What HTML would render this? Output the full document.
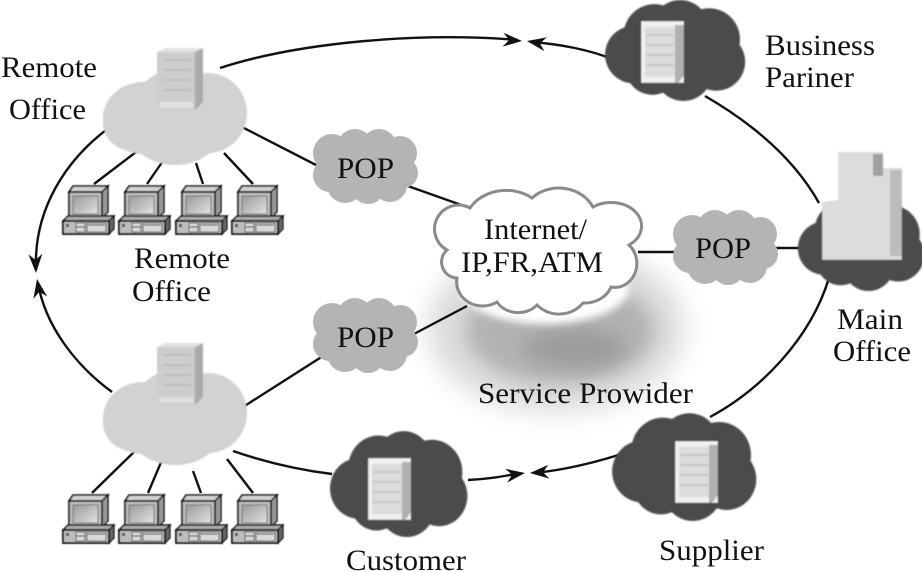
<!DOCTYPE html>
<html><head><meta charset="utf-8"><style>
html,body{margin:0;padding:0;background:#fff;width:922px;height:572px;overflow:hidden}
svg{display:block}
text{font-family:"Liberation Serif",serif;font-size:30px;fill:#111}
.l{fill:none;stroke:#111;stroke-width:2.4}
</style></head><body>
<svg width="922" height="572" viewBox="0 0 922 572" xmlns="http://www.w3.org/2000/svg">
<defs>
<filter id="b1" x="-30%" y="-30%" width="160%" height="160%"><feGaussianBlur stdDeviation="13"/></filter>
<filter id="b2" x="-30%" y="-30%" width="160%" height="160%"><feGaussianBlur stdDeviation="9"/></filter>
<filter id="b3" x="-30%" y="-30%" width="160%" height="160%"><feGaussianBlur stdDeviation="4"/></filter>
<filter id="s" x="-5%" y="-5%" width="110%" height="110%"><feGaussianBlur stdDeviation="0.9"/></filter>
<filter id="t" x="-5%" y="-5%" width="110%" height="110%"><feGaussianBlur stdDeviation="0.4"/></filter>
<linearGradient id="scr" x1="0" y1="0" x2="1" y2="1"><stop offset="0" stop-color="#999"/><stop offset="1" stop-color="#e2e2e2"/></linearGradient>
<symbol id="pc" width="54" height="54" viewBox="0 0 54 54" overflow="visible">
<g filter="url(#t)">
<path d="M6 8 L10 2 L45 2 L39 8 Z" fill="#d0d0d0" stroke="#111" stroke-width="1.6"/>
<path d="M39 8 L45 2 L45 28 L39 34 Z" fill="#999" stroke="#111" stroke-width="1.4"/>
<rect x="6" y="8" width="33" height="26" fill="#bcbcbc" stroke="#111" stroke-width="1.6"/>
<rect x="10" y="12" width="25" height="18" fill="url(#scr)" stroke="#777"/>
<path d="M0 37 L5 32 L51 32 L46 37 Z" fill="#aaa" stroke="#111" stroke-width="1.4"/>
<path d="M46 37 L51 32 L51 45 L46 50 Z" fill="#666" stroke="#111" stroke-width="1.2"/>
<rect x="0" y="37" width="46" height="13" fill="#bdbdbd" stroke="#111" stroke-width="1.8"/>
<rect x="13" y="39" width="9" height="9" fill="#d8d8d8" stroke="#444" stroke-width=".8"/>
<rect x="24" y="39" width="19" height="9" fill="#d8d8d8" stroke="#444" stroke-width=".8"/>
<path d="M13 43 H22 M25 41 H42" stroke="#222" stroke-width="1"/>
<rect x="3" y="40" width="3" height="3" fill="#555"/>
</g>
</symbol>
<symbol id="srvl" width="50" height="64" viewBox="0 0 50 64" overflow="visible">
<g filter="url(#s)">
<rect x="2" y="4" width="38" height="58" fill="#cdcdcd"/>
<path d="M40 4 L48 0 V54 L40 62 Z" fill="#aaa"/>
<path d="M2 4 L10 0 H48 L40 4 Z" fill="#e2e2e2"/>
<path d="M8 12 H36 M8 22 H36 M8 32 H36 M8 42 H36" stroke="#bdbdbd" stroke-width="2"/>
<rect x="4" y="54" width="34" height="6" fill="#e0e0e0"/>
</g>
</symbol>
<symbol id="srvd" width="46" height="64" viewBox="0 0 46 64" overflow="visible">
<g filter="url(#s)">
<rect x="0" y="0" width="43" height="62" fill="#f0f0f0"/>
<rect x="4" y="6" width="30" height="50" fill="#dcdcdc"/>
<path d="M34 4 H43 V54 L37 62 H34Z" fill="#b0b0b0"/>
<path d="M5 14 H33 M5 24 H33 M5 34 H33 M5 44 H33" stroke="#c6c6c6" stroke-width="2"/>
</g>
</symbol>
<g id="cloudL">
<ellipse cx="40" cy="50" rx="40" ry="36"/><ellipse cx="72" cy="38" rx="40" ry="36"/><ellipse cx="105" cy="45" rx="39" ry="40"/><ellipse cx="72" cy="62" rx="46" ry="35"/><ellipse cx="30" cy="55" rx="30" ry="28"/>
</g>
<g id="cloudD">
<circle cx="30" cy="55" r="28"/><circle cx="50" cy="36" r="30"/><circle cx="75" cy="30" r="28"/><circle cx="103" cy="40" r="30"/><circle cx="110" cy="62" r="28"/><circle cx="78" cy="72" r="28"/><circle cx="48" cy="68" r="26"/>
</g>
<g id="pop">
<circle cx="-33" cy="-14" r="19"/><circle cx="-10" cy="-20" r="18"/><circle cx="14" cy="-20" r="18"/><circle cx="35" cy="-14" r="17"/><circle cx="-35" cy="8" r="17"/><circle cx="38" cy="6" r="15"/><circle cx="-20" cy="18" r="18"/><circle cx="3" cy="20" r="17"/><circle cx="25" cy="18" r="17"/><rect x="-36" y="-20" width="72" height="38"/>
</g>
<path id="ar" d="M0 0 L-19 -7 L-13 0 L-19 7 Z" fill="#111"/>
</defs>
<rect width="922" height="572" fill="#fff"/>

<!-- service provider shading -->
<ellipse cx="556" cy="328" rx="128" ry="84" fill="#dadada" filter="url(#b1)"/>
<ellipse cx="560" cy="330" rx="94" ry="54" fill="#b2b2b2" filter="url(#b2)"/>
<ellipse cx="575" cy="348" rx="52" ry="20" fill="#9c9c9c" filter="url(#b2)"/>
<ellipse cx="545" cy="288" rx="84" ry="36" fill="#fff" filter="url(#b3)"/>

<!-- ring connectors -->
<path class="l" d="M220 68 C300 42 420 32 518 40"/>
<path class="l" d="M531 42 C560 44 590 50 612 59"/>
<path class="l" d="M705 96 C755 125 795 160 819 203"/>
<path class="l" d="M829 278 C810 340 760 390 710 417"/>
<path class="l" d="M631 451 C595 463 565 470 534 473"/>
<path class="l" d="M468 480 C490 479 505 476 521 473"/>
<path class="l" d="M233 451 C265 462 300 470 332 474"/>
<path class="l" d="M110 127 C65 160 34 210 36 268"/>
<path class="l" d="M112 392 C75 365 45 325 38 283"/>
<use href="#ar" transform="translate(522,41) rotate(4)"/>
<use href="#ar" transform="translate(527,41) rotate(190)"/>
<use href="#ar" transform="translate(36,273) rotate(88)"/>
<use href="#ar" transform="translate(37,279) rotate(-100)"/>
<use href="#ar" transform="translate(530,473) rotate(176)"/>
<use href="#ar" transform="translate(525,473) rotate(-8)"/>

<!-- straight links -->
<path class="l" d="M240 126 L316 165 M405 185 L467 207 M243 407 L323 356 M412 335 L467 306 M638 252 L675 252 M773 248 L802 248"/>
<path class="l" d="M136 152 L94 184 M165 158 L147 184 M196 163 L203 184 M224 153 L253 184 M135 451 L92 493 M162 460 L148 493 M193 471 L201 493 M227 459 L253 493"/>

<!-- light clouds -->
<g fill="#d2d2d2" filter="url(#s)">
<use href="#cloudL" transform="translate(103,68)"/>
<use href="#cloudL" transform="translate(103,368)"/>
</g>
<use href="#srvl" x="155" y="48"/>
<use href="#srvl" x="155" y="343"/>

<!-- dark clouds -->
<g fill="#4c4c4c" filter="url(#s)">
<use href="#cloudD" transform="translate(603,-2) scale(1.03,1.03)"/>
<use href="#cloudD" transform="translate(328,429) scale(1.01,1.08)"/>
<use href="#cloudD" transform="translate(610,411) scale(1.06,1.1)"/>
<use href="#cloudD" transform="translate(796,196) scale(.93,.95)"/>
</g>
<use href="#srvd" x="641" y="21"/>
<use href="#srvd" x="368" y="458"/>
<use href="#srvd" x="675" y="441"/>

<!-- main office building -->
<g filter="url(#s)">
<path d="M822 202 L838 200 V152 H883 V168 H902 V260 H822 Z" fill="#dcdcdc"/>
<path d="M890 170 H902 V256 H890 Z" fill="#bcbcbc"/>
<path d="M873 154 H883 V176 H873 Z" fill="#a0a0a0"/>
</g>

<!-- POP clouds -->
<g fill="#b4b4b4">
<use href="#pop" transform="translate(365,167)"/>
<use href="#pop" transform="translate(365,336)"/>
<use href="#pop" transform="translate(725,248)"/>
</g>

<!-- internet cloud -->
<path d="M447 250 A22 22 0 0 1 470 208 A42 36 0 0 1 532 198 A38 34 0 0 1 593 207 A26 20 0 0 1 629 245 A22 24 0 0 1 611 287 A28 24 0 0 1 583 303 A30 28 0 0 1 537 305 A24 20 0 0 1 497 302 A26 24 0 0 1 457 278 A16 16 0 0 1 447 250 Z" fill="#fff" stroke="#8a8a8a" stroke-width="3"/>

<!-- computers -->
<use href="#pc" x="63" y="184"/><use href="#pc" x="119" y="184"/><use href="#pc" x="176" y="184"/><use href="#pc" x="232" y="184"/>
<use href="#pc" x="63" y="493"/><use href="#pc" x="119" y="493"/><use href="#pc" x="176" y="493"/><use href="#pc" x="232" y="493"/>

<!-- labels -->
<text x="1" y="77" textLength="96" lengthAdjust="spacingAndGlyphs">Remote</text>
<text x="9" y="119" textLength="77" lengthAdjust="spacingAndGlyphs">Office</text>
<text x="134" y="268" textLength="96" lengthAdjust="spacingAndGlyphs">Remote</text>
<text x="132" y="301" textLength="79" lengthAdjust="spacingAndGlyphs">Office</text>
<text x="765" y="55" textLength="110" lengthAdjust="spacingAndGlyphs">Business</text>
<text x="765" y="87" textLength="89" lengthAdjust="spacingAndGlyphs">Pariner</text>
<text x="484" y="239" textLength="103" lengthAdjust="spacingAndGlyphs">Internet/</text>
<text x="461" y="272" textLength="142" lengthAdjust="spacingAndGlyphs">IP,FR,ATM</text>
<text x="337" y="178" textLength="57" lengthAdjust="spacingAndGlyphs">POP</text>
<text x="337" y="347" textLength="57" lengthAdjust="spacingAndGlyphs">POP</text>
<text x="695" y="258" textLength="56" lengthAdjust="spacingAndGlyphs">POP</text>
<text x="837" y="329" textLength="66" lengthAdjust="spacingAndGlyphs">Main</text>
<text x="833" y="361" textLength="78" lengthAdjust="spacingAndGlyphs">Office</text>
<text x="478" y="403" textLength="215" lengthAdjust="spacingAndGlyphs">Service Prowider</text>
<text x="346" y="570" textLength="120" lengthAdjust="spacingAndGlyphs">Customer</text>
<text x="659" y="560" textLength="105" lengthAdjust="spacingAndGlyphs">Supplier</text>
</svg>
</body></html>
